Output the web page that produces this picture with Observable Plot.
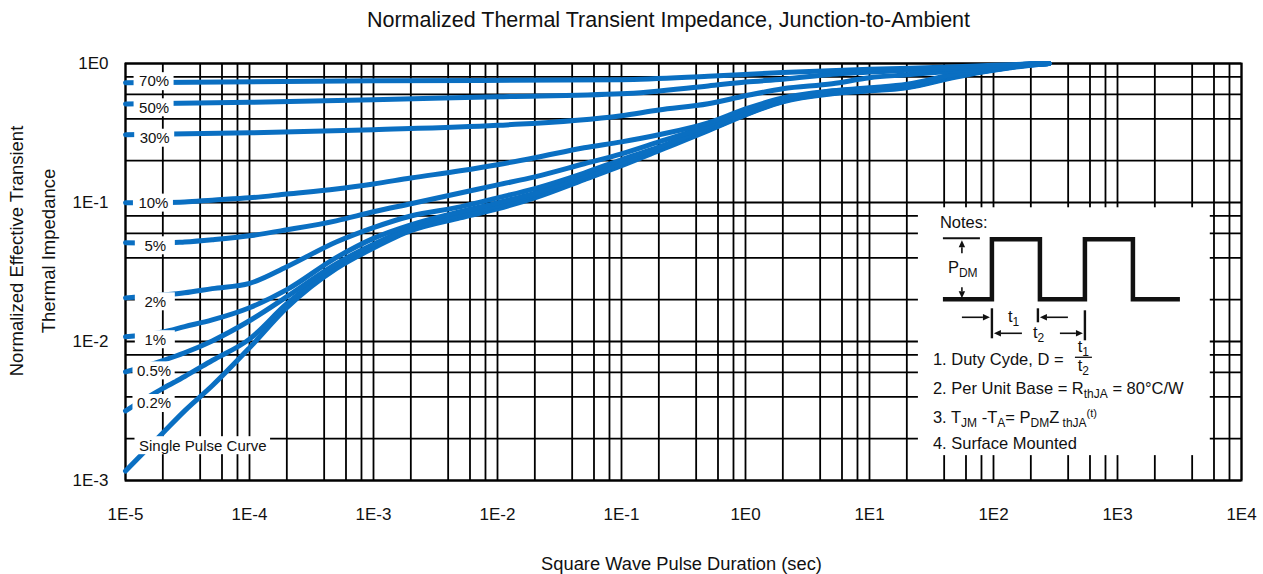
<!DOCTYPE html>
<html><head><meta charset="utf-8">
<script src="https://cdn.jsdelivr.net/npm/d3@7"></script>
<script src="https://cdn.jsdelivr.net/npm/@observablehq/plot@0.6"></script>
<style>html,body{margin:0;padding:0;background:#fff}svg{display:block}</style>
</head><body><div id="chart"></div>
<script>
// ---------- data ----------
const tLow = [1e-5, 2e-5, 3e-5, 5e-5, 1e-4, 2e-4, 5e-4, 1e-3, 2e-3, 5e-3, 1e-2, 2e-2, 5e-2, 0.1, 0.2, 0.5, 1, 2, 5, 10, 20, 50, 100, 200, 280];
const zSingle = [0.00117, 0.0022, 0.00317, 0.0048, 0.009, 0.0175, 0.0334, 0.047, 0.0626, 0.0775, 0.09, 0.108, 0.146, 0.184, 0.236, 0.328, 0.427, 0.53, 0.605, 0.636, 0.669, 0.80, 0.894, 0.97, 1.0];
const z02 = [0.00317, 0.0046, 0.0056, 0.0073, 0.0104, 0.0187, 0.0342, 0.0487, 0.0636, 0.079, 0.0915, 0.110, 0.148, 0.187, 0.24, 0.333, 0.43, 0.535, 0.61, 0.641, 0.674, 0.81, 0.9, 0.98, 1];
const z05 = [0.00605, 0.0073, 0.0083, 0.0101, 0.0141, 0.021, 0.0362, 0.050, 0.0657, 0.082, 0.0946, 0.114, 0.153, 0.19, 0.243, 0.336, 0.435, 0.539, 0.615, 0.647, 0.68, 0.816, 0.9, 0.98, 1];
const z1 = [0.0108, 0.0117, 0.0128, 0.0143, 0.0175, 0.0236, 0.0401, 0.0552, 0.069, 0.0858, 0.0995, 0.117, 0.156, 0.193, 0.248, 0.339, 0.438, 0.544, 0.62, 0.652, 0.685, 0.822, 0.908, 0.987, 1];
const z2 = [0.0206, 0.0216, 0.0224, 0.024, 0.0262, 0.0345, 0.052, 0.066, 0.080, 0.093, 0.108, 0.126, 0.163, 0.203, 0.25, 0.345, 0.442, 0.548, 0.626, 0.658, 0.691, 0.829, 0.908, 0.987, 1];
const z5 = [0.0513, 0.051, 0.052, 0.054, 0.0576, 0.0636, 0.0738, 0.0858, 0.098, 0.117, 0.134, 0.153, 0.19, 0.224, 0.273, 0.356, 0.453, 0.553, 0.631, 0.663, 0.697, 0.836, 0.916, 0.995, 1];
const z10 = [0.0995, 0.1, 0.101, 0.104, 0.108, 0.115, 0.125, 0.136, 0.150, 0.169, 0.187, 0.21, 0.248, 0.273, 0.307, 0.374, 0.471, 0.566, 0.636, 0.669, 0.708, 0.843, 0.924, 0.995, 1];
const t30 = [1e-5, 1e-4, 1e-3, 1e-2, 0.1, 0.2, 0.5, 1, 2, 5, 10, 20, 50, 100, 280];
const z30 = [0.307, 0.317, 0.334, 0.359, 0.421, 0.463, 0.513, 0.586, 0.658, 0.715, 0.79, 0.83, 0.886, 0.93, 1];
const t50 = [1e-5, 1e-4, 1e-3, 1e-2, 0.1, 0.5, 1, 2, 5, 20, 100, 280];
const z50 = [0.511, 0.526, 0.548, 0.577, 0.605, 0.69, 0.736, 0.77, 0.836, 0.893, 0.947, 1];
const t70 = [1e-5, 1e-3, 0.1, 0.5, 2, 10, 50, 100, 280];
const z70 = [0.726, 0.75, 0.765, 0.809, 0.861, 0.908, 0.947, 0.97, 1];

const curveLabels = ["70%", "50%", "30%", "10%", "5%", "2%", "1%", "0.5%", "0.2%", "Single Pulse Curve"];
const labelT = [1.7e-5, 1.7e-5, 1.72e-5, 1.68e-5, 1.74e-5, 1.74e-5, 1.74e-5, 1.7e-5, 1.7e-5, 4.2e-5];
const labelZ = [0.74, 0.48, 0.29, 0.099, 0.0488, 0.0193, 0.0103, 0.00615, 0.00358, 0.00178];

const xTickValues = [1e-5, 1e-4, 1e-3, 1e-2, 1e-1, 1e0, 1e1, 1e2, 1e3, 1e4];
const xTickLabels = ["1E-5", "1E-4", "1E-3", "1E-2", "1E-1", "1E0", "1E1", "1E2", "1E3", "1E4"];
const yTickValues = [1e-3, 1e-2, 1e-1, 1e0];
const yTickLabels = ["1E-3", "1E-2", "1E-1", "1E0"];
const gridMantissas = [1, 2, 4, 6, 8];

const titleText = "Normalized Thermal Transient Impedance, Junction-to-Ambient";
const xLabelText = "Square Wave Pulse Duration (sec)";
const yLabelLines = ["Normalized Effective Transient", "Thermal Impedance"];
const noteBox = {t1: 24.8, t2: 5600, z1: 0.00151, z2: 0.0916};

// ---------- build tables ----------
const series = [
  ["Single", tLow, zSingle], ["0.2%", tLow, z02], ["0.5%", tLow, z05], ["1%", tLow, z1],
  ["2%", tLow, z2], ["5%", tLow, z5], ["10%", tLow, z10], ["30%", t30, z30], ["50%", t50, z50], ["70%", t70, z70]
];
const rows = series.flatMap(([name, ts, zs]) => ts.map((t, i) => ({series: name, t, z: zs[i]})));
const labelRows = curveLabels.map((label, i) => ({label, t: labelT[i], z: labelZ[i]}));
const xGrid = d3.range(-5, 4).flatMap(k => gridMantissas.map(m => m * Math.pow(10, k))).concat([1e4]);
const yGrid = d3.range(-3, 0).flatMap(k => gridMantissas.map(m => m * Math.pow(10, k))).concat([1]);

const FONT = "'Liberation Sans', Arial, Helvetica, sans-serif";
const INK = "#111";
const BLUE = "#0a6fc2";
const LABEL_SIZE = 15;

function labelBoxes(index, scales) {
  const ctx = document.createElement("canvas").getContext("2d");
  ctx.font = `${LABEL_SIZE}px ${FONT}`;
  const g = d3.create("svg:g");
  curveLabels.forEach((s, i) => {
    const w = Math.max(ctx.measureText(s).width + 8, 40);
    const cx = scales.x(labelT[i]), cy = scales.y(labelZ[i]);
    g.append("rect").attr("x", cx - w / 2).attr("y", cy - 9).attr("width", w).attr("height", 18).attr("fill", "white");
  });
  return g.node();
}

function richText(g, x, y, parts, size, anchor = "start") {
  const t = g.append("text").attr("x", x).attr("y", y).attr("font-size", size).attr("text-anchor", anchor);
  let cur = 0;
  for (const [s, kind] of parts) {
    const off = kind === "sub" ? 4 : kind === "sup" ? -6 : 0;
    const fs = kind === "sub" ? 12 : kind === "sup" ? 11 : size;
    t.append("tspan").attr("dy", off - cur).attr("font-size", fs).text(s);
    cur = off;
  }
  return t;
}

function arrow(g, x1, y1, x2, y2) {
  const a = Math.atan2(y2 - y1, x2 - x1), L = 7, W = 3.2;
  const bx = x2 - L * Math.cos(a), by = y2 - L * Math.sin(a);
  g.append("line").attr("x1", x1).attr("y1", y1).attr("x2", bx).attr("y2", by).attr("stroke", INK).attr("stroke-width", 1.6);
  const px = -Math.sin(a) * W, py = Math.cos(a) * W;
  g.append("path").attr("d", `M${x2},${y2}L${bx + px},${by + py}L${bx - px},${by - py}Z`).attr("fill", INK);
}

function notes(index, scales) {
  const x0 = scales.x(noteBox.t1), y0 = scales.y(noteBox.z2);
  const g = d3.create("svg:g").attr("transform", `translate(${x0},${y0})`)
    .attr("font-family", FONT).attr("fill", INK).attr("text-anchor", "start");
  const fs = 16.5;
  g.append("text").attr("x", 22).attr("y", 21).attr("font-size", fs).text("Notes:");
  g.append("path").attr("d", "M25,92H74V32H122V92H167V32H215V92H262").attr("fill", "none")
    .attr("stroke", INK).attr("stroke-width", 4.5).attr("stroke-linejoin", "miter");
  g.append("path").attr("d", "M25,31H62").attr("stroke", INK).attr("stroke-width", 2);
  arrow(g, 44, 46, 44, 33);
  arrow(g, 44, 80, 44, 91);
  richText(g, 30, 66, [["P", "n"], ["DM", "sub"]], fs);
  // t1 / t2 dimension marks
  const tick = (x, a, b) => g.append("line").attr("x1", x).attr("x2", x).attr("y1", a).attr("y2", b).attr("stroke", INK).attr("stroke-width", 2.4);
  tick(74, 101, 131); tick(120, 101, 115); tick(167, 103, 133);
  arrow(g, 44, 110, 72, 110);
  arrow(g, 150, 110, 122, 110);
  richText(g, 90, 115, [["t", "n"], ["1", "sub"]], fs);
  arrow(g, 104, 126, 76, 126);
  arrow(g, 142, 126, 165, 126);
  richText(g, 115, 131, [["t", "n"], ["2", "sub"]], fs);
  // text lines
  g.append("text").attr("x", 15).attr("y", 158).attr("font-size", fs).text("1. Duty Cyde, D =");
  richText(g, 165.5, 145, [["t", "n"], ["1", "sub"]], fs, "middle");
  g.append("line").attr("x1", 157).attr("x2", 174).attr("y1", 150).attr("y2", 150).attr("stroke", INK).attr("stroke-width", 1.3);
  richText(g, 165.5, 164, [["t", "n"], ["2", "sub"]], fs, "middle");
  richText(g, 15, 187, [["2. Per Unit Base = R", "n"], ["thJA", "sub"], [" = 80°C/W", "n"]], fs);
  richText(g, 15, 216, [["3. T", "n"], ["JM", "sub"], [" -T", "n"], ["A", "sub"], ["= P", "n"], ["DM", "sub"], ["Z", "n"], [" thJA", "sub"], ["(t)", "sup"]], fs);
  g.append("text").attr("x", 15).attr("y", 242).attr("font-size", fs).text("4. Surface Mounted");
  return g.node();
}

const plot = Plot.plot({
  width: 1263, height: 574,
  marginLeft: 125, marginRight: 22, marginTop: 63, marginBottom: 94,
  style: {fontFamily: FONT, background: "white", color: INK},
  x: {type: "log", domain: [1e-5, 1e4]},
  y: {type: "log", domain: [1e-3, 1]},
  marks: [
    Plot.ruleX(xGrid, {stroke: "#000", strokeWidth: 1.8}),
    Plot.ruleY(yGrid, {stroke: "#000", strokeWidth: 1.8}),
    Plot.frame({stroke: "#000", strokeWidth: 2}),
    Plot.rect([noteBox], {x1: "t1", x2: "t2", y1: "z1", y2: "z2", fill: "white"}),
    Plot.line(rows, {x: "t", y: "z", z: "series", stroke: BLUE, strokeWidth: 5, curve: "monotone-x"}),
    labelBoxes,
    Plot.text(labelRows, {x: "t", y: "z", text: "label", fontSize: LABEL_SIZE, fill: INK}),
    notes,
    Plot.axisX(xTickValues, {tickSize: 0, tickPadding: 27, fontSize: 17, label: null, fill: INK,
      tickFormat: d => xTickLabels[xTickValues.indexOf(d)]}),
    Plot.axisY(yTickValues, {tickSize: 0, tickPadding: 17, fontSize: 17, label: null, fill: INK,
      tickFormat: d => yTickLabels[yTickValues.indexOf(d)]}),
    Plot.text([titleText], {text: d => d, frameAnchor: "top", textAnchor: "middle", lineAnchor: "middle", dx: -15, dy: -43, fontSize: 21.5, fill: INK}),
    Plot.text([xLabelText], {text: d => d, frameAnchor: "bottom", textAnchor: "middle", lineAnchor: "middle", dx: -2, dy: 84, fontSize: 18.3, fill: INK}),
    Plot.text([yLabelLines[0]], {text: d => d, frameAnchor: "left", textAnchor: "middle", lineAnchor: "middle", rotate: -90, dx: -108.5, dy: -21, fontSize: 18.5, fill: INK}),
    Plot.text([yLabelLines[1]], {text: d => d, frameAnchor: "left", textAnchor: "middle", lineAnchor: "middle", rotate: -90, dx: -76.5, dy: -21, fontSize: 18.5, fill: INK})
  ]
});
document.getElementById("chart").appendChild(plot);
</script>
</body></html>
